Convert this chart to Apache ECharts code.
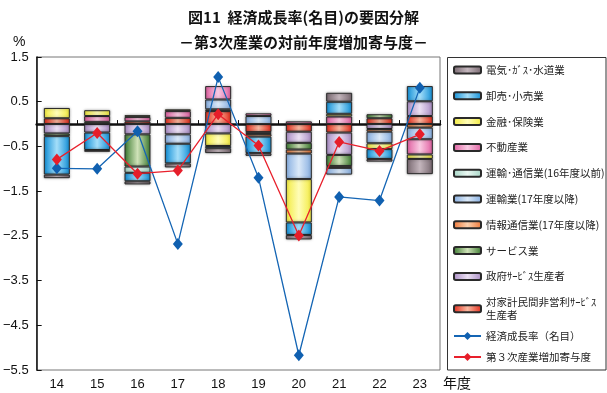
<!DOCTYPE html>
<html><head><meta charset="utf-8">
<script src="https://cdn.jsdelivr.net/npm/echarts@6/dist/echarts.min.js"></script>
<style>html,body{margin:0;padding:0;background:#fff}#c{width:607px;height:393px}</style>
</head><body><div id="c"></div>
<script>
const years = ['14','15','16','17','18','19','20','21','22','23'];
// contributions by industry (percentage points)
const denki       = [-0.08,-0.04,-0.07,-0.09,-0.11,-0.06,-0.10, 0.20,-0.06,-0.34];
const oroshi      = [-0.86,-0.39,-0.19,-0.44,-0.05,-0.37,-0.28, 0.27,-0.22, 0.34];
const kinyu       = [ 0.23, 0.13, 0.04, 0.04,-0.28, null,-0.97, 0.06,-0.13,-0.10];
const fudosan     = [ null, 0.13, 0.10, 0.15, 0.30, 0.06, 0.06, 0.17, null,-0.34];
const unyuTsushin = [ null, null,-0.14, null, null, null, null, null, null, null];
const unyu        = [ null, null, null,-0.21, 0.22, 0.18,-0.57,-0.15,-0.26,-0.26];
const joho        = [ null, null, null, null, null,-0.06,-0.09,-0.04,-0.06,-0.08];
const service     = [-0.06, 0.05,-0.72, null, 0.04, null,-0.15,-0.25, 0.09, null];
const seifu       = [-0.21,-0.19,-0.23,-0.23,-0.21,-0.04,-0.25,-0.50,-0.11, 0.33];
const taikakei    = [ 0.13, null, 0.06, 0.14, 0.29,-0.18,-0.17,-0.19, 0.13, 0.18];
const growthRate  = [-0.99,-1.00,-0.16,-2.68, 1.05,-1.20,-5.17,-1.63,-1.71, 0.81];
const tertiary    = [-0.79,-0.20,-1.11,-1.04, 0.22,-0.48,-2.49,-0.40,-0.60,-0.23];
const yTicks = [1.5,0.5,-0.5,-1.5,-2.5,-3.5,-4.5,-5.5];

const names = {
  denki:'電気･ｶﾞｽ･水道業', oroshi:'卸売･小売業', kinyu:'金融･保険業', fudosan:'不動産業',
  unyuTsushin:'運輸･通信業(16年度以前)', unyu:'運輸業(17年度以降)', joho:'情報通信業(17年度以降)',
  service:'サービス業', seifu:'政府ｻｰﾋﾞｽ生産者', taikakei:'対家計民間非営利ｻｰﾋﾞｽ\n生産者',
  growth:'経済成長率（名目）', tert:'第３次産業増加寄与度'
};

function grad(edge, mid){
  return {type:'linear',x:0,y:0,x2:1,y2:0,colorStops:[
    {offset:0,color:edge},{offset:0.5,color:mid},{offset:1,color:edge}]};
}
const barDefs = [
  ['taikakei', taikakei, '#e42a1a', '#f9b8a0'],
  ['seifu', seifu, '#a98cc4', '#ebe0f3'],
  ['service', service, '#3b7a30', '#cfe2b8'],
  ['joho', joho, '#ee7636', '#fcd0ac'],
  ['unyu', unyu, '#85ade0', '#dbe9f8'],
  ['unyuTsushin', unyuTsushin, '#a6d6c6', '#eaf8f2'],
  ['fudosan', fudosan, '#e05ea0', '#f9cae2'],
  ['kinyu', kinyu, '#f2ea3e', '#fffdb8'],
  ['oroshi', oroshi, '#108ed6', '#a4def9'],
  ['denki', denki, '#786870', '#c4b6bd']
];
const series = barDefs.map(d => ({
  name: names[d[0]], type:'bar', stack:'s', barWidth:26, data:d[1],
  itemStyle:{color:grad(d[2],d[3]), borderColor:'#2a2a2a', borderWidth:1,
    shadowColor:'rgba(0,0,0,0.35)', shadowBlur:3},
  z:2
}));
series.push({name:names.growth, type:'line', data:growthRate, symbol:'diamond', symbolSize:[10,12],
  lineStyle:{color:'#1465b4', width:1.3}, itemStyle:{color:'#1060b0'}, z:5});
series.push({name:names.tert, type:'line', data:tertiary, symbol:'diamond', symbolSize:[10,12],
  lineStyle:{color:'#e8202c', width:1.3}, itemStyle:{color:'#e61e2a'}, z:6});

const legendOrder = ['denki','oroshi','kinyu','fudosan','unyuTsushin','unyu','joho','service','seifu','taikakei'].map(k=>names[k]);
const font = 'Noto Sans CJK JP';
const chart = echarts.init(document.getElementById('c'), null, {renderer:'canvas'});
chart.setOption({
  animation:false,
  title:[
    {text:'図11  経済成長率(名目)の要因分解', left:'center', top:5, textStyle:{fontFamily:font, fontSize:15, fontWeight:'bold', color:'#111'}},
    {text:'－第3次産業の対前年度増加寄与度－', left:'center', top:30, textStyle:{fontFamily:font, fontSize:15, fontWeight:'bold', color:'#111'}}
  ],
  grid:{left:36, right:167, top:57, bottom:23, show:true, borderColor:'#777', borderWidth:1},
  xAxis:[
    {type:'category', data:years, position:'bottom', axisLine:{show:false, onZero:false}, axisTick:{show:false},
      axisLabel:{fontFamily:'Liberation Sans', fontSize:13, color:'#111', margin:8}},
    {type:'category', data:years, position:'bottom', axisLine:{show:true, onZero:true, lineStyle:{color:'#111', width:2.5}},
      axisTick:{show:true, inside:true, length:4, lineStyle:{color:'#111', width:1}}, axisLabel:{show:false}}
  ],
  yAxis:{type:'value', min:-5.5, max:1.5, interval:1, splitLine:{show:false},
    axisLine:{show:true, lineStyle:{color:'#111', width:1.5}},
    axisTick:{show:true, inside:true, length:5, lineStyle:{color:'#111'}},
    axisLabel:{fontFamily:'Liberation Sans', fontSize:13, color:'#111', margin:8,
      formatter:v=>String(v.toFixed(1)).replace('-','−')}},
  legend:[
    {data:legendOrder, orient:'vertical', left:453, top:63.5, padding:0, itemWidth:27, itemHeight:7, itemGap:12.8,
      textStyle:{fontFamily:font, fontSize:10.5, color:'#222', lineHeight:13}},
    {data:[names.growth, names.tert], orient:'vertical', left:453, top:329.5, padding:0, itemWidth:27, itemHeight:10, itemGap:8,
      textStyle:{fontFamily:font, fontSize:10.5, color:'#222', lineHeight:13}}
  ],
  graphic:[
    {type:'rect', shape:{x:447.5, y:57.5, width:158.5, height:312.5}, style:{fill:'none', stroke:'#333', lineWidth:1}, z:-1},
    {type:'text', left:13, top:35, style:{text:'%', fontFamily:'Liberation Sans', fontSize:14, fill:'#111'}},
    {type:'text', left:443, top:376, style:{text:'年度', fontFamily:font, fontSize:14, fill:'#111'}}
  ],
  series: series
});
</script></body></html>
